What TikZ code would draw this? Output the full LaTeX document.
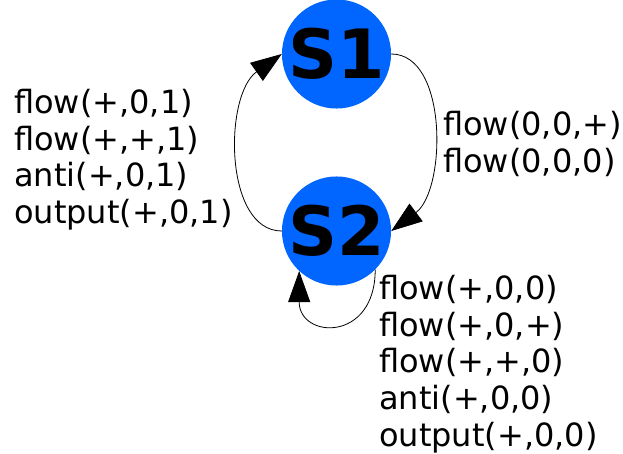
\documentclass[tikz,border=0pt]{standalone}
\usepackage{fontspec}
\setmainfont{DejaVu Sans}
\usetikzlibrary{arrows.meta}
\definecolor{stateblue}{RGB}{0,102,255}
\begin{document}
\begin{tikzpicture}[x=1pt,y=-1pt,
  state/.style={circle,fill=stateblue,minimum size=97pt,inner sep=0pt,font=\fontsize{68}{80}\selectfont\bfseries},
  lbl/.style={anchor=north west,inner sep=0pt,align=left,font=\fontsize{32}{36.7}\selectfont},
  trans/.style={draw=black,line width=0.8pt,-{Triangle[length=31pt,width=22pt]}}]
\useasboundingbox (0,0) rectangle (623,454);
\node[state] (S1) at (336.5,54) {S1};
\node[state] (S2) at (336.5,231) {S2};
\draw[trans] (S1.east) .. controls +(57,0) and +(55,-41) .. (S2.east);
\draw[trans] (S2.west) .. controls +(-58,0) and +(-58,41) .. (S1.west);
\draw[trans] (S2.-45) .. controls +(0,73) and +(0,68) .. (S2.-133);
\node[lbl] (L) at (14,89) {flow(+,0,1)\\flow(+,+,1)\\anti(+,0,1)\\output(+,0,1)};
\node[lbl] (R) at (443,111) {flow(0,0,+)\\flow(0,0,0)};
\node[lbl] (B) at (379,275) {flow(+,0,0)\\flow(+,0,+)\\flow(+,+,0)\\anti(+,0,0)\\output(+,0,0)};
\end{tikzpicture}
\end{document}
